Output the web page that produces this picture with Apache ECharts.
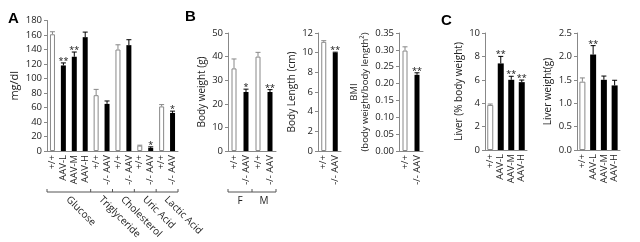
<!DOCTYPE html>
<html><head><meta charset="utf-8">
<script src="https://cdn.jsdelivr.net/npm/echarts@6/dist/echarts.min.js"></script>
<style>html,body{margin:0;padding:0;background:#fff}#c{width:640px;height:242px}</style>
</head><body><div id="c"></div>
<script>
// ---------- DATA ----------
const catsA = ['+/+','AAV-L','AAV-M','AAV-H','+/+','-/- AAV','+/+','-/- AAV','+/+','-/- AAV','+/+','-/- AAV'];
const valsA = [161,118,130,157,77,65,140,146,7.5,4.2,61.5,52.5];
const errA  = [3.5,3.5,6.5,7,8,4,6.5,7.5,0.5,1.5,2.5,2.5];
const sigA  = ['','**','**','','','','','','','*','','*'];
const groupsA = ['Glucose','Triglyceride','Cholesterol','Uric Acid','Lactic Acid'];
const groupSizesA = [4,2,2,2,2];
const ticksA = [0,20,40,60,80,100,120,140,160,180];

const catsBW = ['+/+','-/- AAV','+/+','-/- AAV'];
const valsBW = [35,25,40,25];
const errBW  = [4,1.2,1.8,1];
const sigBW  = ['','*','','**'];
const groupsBW = ['F','M'];
const groupSizesBW = [2,2];
const ticksBW = [0,10,20,30,40,50];

const catsBL = ['+/+','-/- AAV'];
const valsBL = [11.1,10.0];
const errBL  = [0.12,0.05];
const sigBL  = ['','**'];
const ticksBL = [0,2,4,6,8,10,12];

const catsBMI = ['+/+','-/- AAV'];
const valsBMI = [0.298,0.226];
const errBMI  = [0.011,0.006];
const sigBMI  = ['','**'];
const ticksBMI = [0,0.05,0.10,0.15,0.20,0.25,0.30,0.35];

const catsLP = ['+/+','AAV-L','AAV-M','AAV-H'];
const valsLP = [3.85,7.4,6.0,5.8];
const errLP  = [0.08,0.6,0.3,0.18];
const sigLP  = ['','**','**','**'];
const ticksLP = [0,2,4,6,8,10];

const catsLW = ['+/+','AAV-L','AAV-M','AAV-H'];
const valsLW = [1.46,2.04,1.50,1.38];
const errLW  = [0.08,0.19,0.08,0.11];
const sigLW  = ['','**','',''];
const ticksLW = [0,0.5,1.0,1.5,2.0,2.5];

// ---------- LAYOUT ----------
const FONT = '"Open Sans", "DejaVu Sans", sans-serif';
const panels = [
  {cats:catsA, vals:valsA, err:errA, sig:sigA, ticks:ticksA, dec:0, name:'mg/dl', nameGap:23, nameSize:11,
   grid:{left:47, top:20.5, width:131, height:130.5}, barWidth:5},
  {cats:catsBW, vals:valsBW, err:errBW, sig:sigBW, ticks:ticksBW, dec:0, name:'Body weight (g)', nameGap:20, nameSize:10,
   grid:{left:228, top:33, width:48, height:118}, barWidth:5},
  {cats:catsBL, vals:valsBL, err:errBL, sig:sigBL, ticks:ticksBL, dec:0, name:'Body Length (cm)', nameGap:16, nameSize:10,
   grid:{left:318, top:33, width:23, height:118}, barWidth:5},
  {cats:catsBMI, vals:valsBMI, err:errBMI, sig:sigBMI, ticks:ticksBMI, dec:2, name:'BMI\n(body weight/body length²)', nameGap:19, nameSize:9.5,
   grid:{left:399, top:33, width:24, height:118}, barWidth:5},
  {cats:catsLP, vals:valsLP, err:errLP, sig:sigLP, ticks:ticksLP, dec:0, name:'Liver (% body weight)', nameGap:14, nameSize:10,
   grid:{left:485, top:33, width:42, height:117}, barWidth:6},
  {cats:catsLW, vals:valsLW, err:errLW, sig:sigLW, ticks:ticksLW, dec:1, name:'Liver weight(g)', nameGap:23, nameSize:10,
   grid:{left:577, top:33, width:43, height:117}, barWidth:6},
];

const grid=[], xAxis=[], yAxis=[], series=[];
panels.forEach((p,i)=>{
  grid.push(Object.assign({containLabel:false}, p.grid));
  const mn = p.ticks[0], mx = p.ticks[p.ticks.length-1], iv = p.ticks[1]-p.ticks[0];
  xAxis.push({type:'category', gridIndex:i, data:p.cats,
    axisLine:{lineStyle:{color:'#888', width:1}}, axisTick:{show:false},
    axisLabel:{rotate:90, interval:0, fontSize:9.5, color:'#222', fontFamily:FONT, margin:4}});
  yAxis.push({type:'value', gridIndex:i, min:mn, max:mx, interval:iv,
    name:p.name, nameLocation:'middle', nameGap:p.nameGap,
    nameTextStyle:{fontSize:p.nameSize, color:'#222', fontFamily:FONT, lineHeight:p.nameSize+2},
    axisLine:{show:true, lineStyle:{color:'#888', width:1}},
    axisTick:{show:true, length:3, lineStyle:{color:'#888'}},
    splitLine:{show:false},
    axisLabel:{fontSize:9.5, color:'#222', fontFamily:FONT, margin:5,
      formatter:v=>Number(v).toFixed(p.dec)}});
  series.push({type:'bar', xAxisIndex:i, yAxisIndex:i, barWidth:p.barWidth, animation:false,
    data:p.vals.map((v,k)=>({value:v, itemStyle: p.cats[k]==='+/+'
      ? {color:'#fff', borderColor:'#888', borderWidth:1}
      : {color:'#000'}}))});
  series.push({type:'custom', xAxisIndex:i, yAxisIndex:i, animation:false, z:5,
    data:p.vals.map((v,k)=>[k, v, p.err[k]]),
    renderItem:(params, api)=>{
      const k = params.dataIndex;
      const x = api.value(0), v = api.value(1), e = api.value(2);
      const b = api.coord([x, v]), t = api.coord([x, v+e]);
      const col = p.cats[k]==='+/+' ? '#888' : '#000';
      const ch = [
        {type:'line', shape:{x1:b[0], y1:b[1], x2:t[0], y2:t[1]}, style:{stroke:col, lineWidth:1}},
        {type:'line', shape:{x1:t[0]-2.5, y1:t[1], x2:t[0]+2.5, y2:t[1]}, style:{stroke:col, lineWidth:1}}
      ];
      if (p.sig[k]) ch.push({type:'text', style:{text:p.sig[k], x:t[0], y:t[1]+3,
        textAlign:'center', textVerticalAlign:'bottom', fontSize:9, fontWeight:'normal', fill:'#111', fontFamily:FONT}});
      return {type:'group', children:ch};
    }});
});

const chart = echarts.init(document.getElementById('c'), null, {renderer:'canvas'});
const letters = [
  {type:'text', left:8, top:11, style:{text:'A', fontSize:15, fontWeight:'bold', fill:'#000', fontFamily:'Liberation Sans, Arial'}},
  {type:'text', left:185, top:9, style:{text:'B', fontSize:15, fontWeight:'bold', fill:'#000', fontFamily:'Liberation Sans, Arial'}},
  {type:'text', left:441, top:13, style:{text:'C', fontSize:15, fontWeight:'bold', fill:'#000', fontFamily:'Liberation Sans, Arial'}}
];
chart.setOption({animation:false, grid, xAxis, yAxis, series, graphic:letters});

// ---------- brackets under grouped panels ----------
function bracket(gi, groups, sizes, y, rotated){
  const p0 = chart.convertToPixel({xAxisIndex:gi}, 0);
  const p1 = chart.convertToPixel({xAxisIndex:gi}, 1);
  const band = p1 - p0;
  const start = p0 - band/2;
  const els = [];
  let pos = 0;
  const bounds = [start];
  sizes.forEach(s=>{pos+=s; bounds.push(start + pos*band);});
  els.push({type:'line', shape:{x1:bounds[0], y1:y, x2:bounds[bounds.length-1], y2:y}, style:{stroke:'#555', lineWidth:1}});
  bounds.forEach(bx=>els.push({type:'line', shape:{x1:bx, y1:y, x2:bx, y2:y-3}, style:{stroke:'#555', lineWidth:1}}));
  let acc = 0;
  groups.forEach((g,j)=>{
    const cx = start + (acc + sizes[j]/2)*band;
    acc += sizes[j];
    if (rotated) {
      els.push({type:'text', x:cx-1, y:y+6, rotation:-Math.PI/4,
        style:{text:g, fontSize:10, fill:'#222', fontFamily:FONT, textAlign:'left', textVerticalAlign:'middle'}});
    } else {
      els.push({type:'text', x:cx, y:y+4,
        style:{text:g, fontSize:10, fill:'#222', fontFamily:FONT, textAlign:'center', textVerticalAlign:'top'}});
    }
  });
  return els;
}
const extra = [].concat(bracket(0, groupsA, groupSizesA, 192, true), bracket(1, groupsBW, groupSizesBW, 192, false));
chart.setOption({graphic:letters.concat(extra)}, {replaceMerge:['graphic']});
</script></body></html>
